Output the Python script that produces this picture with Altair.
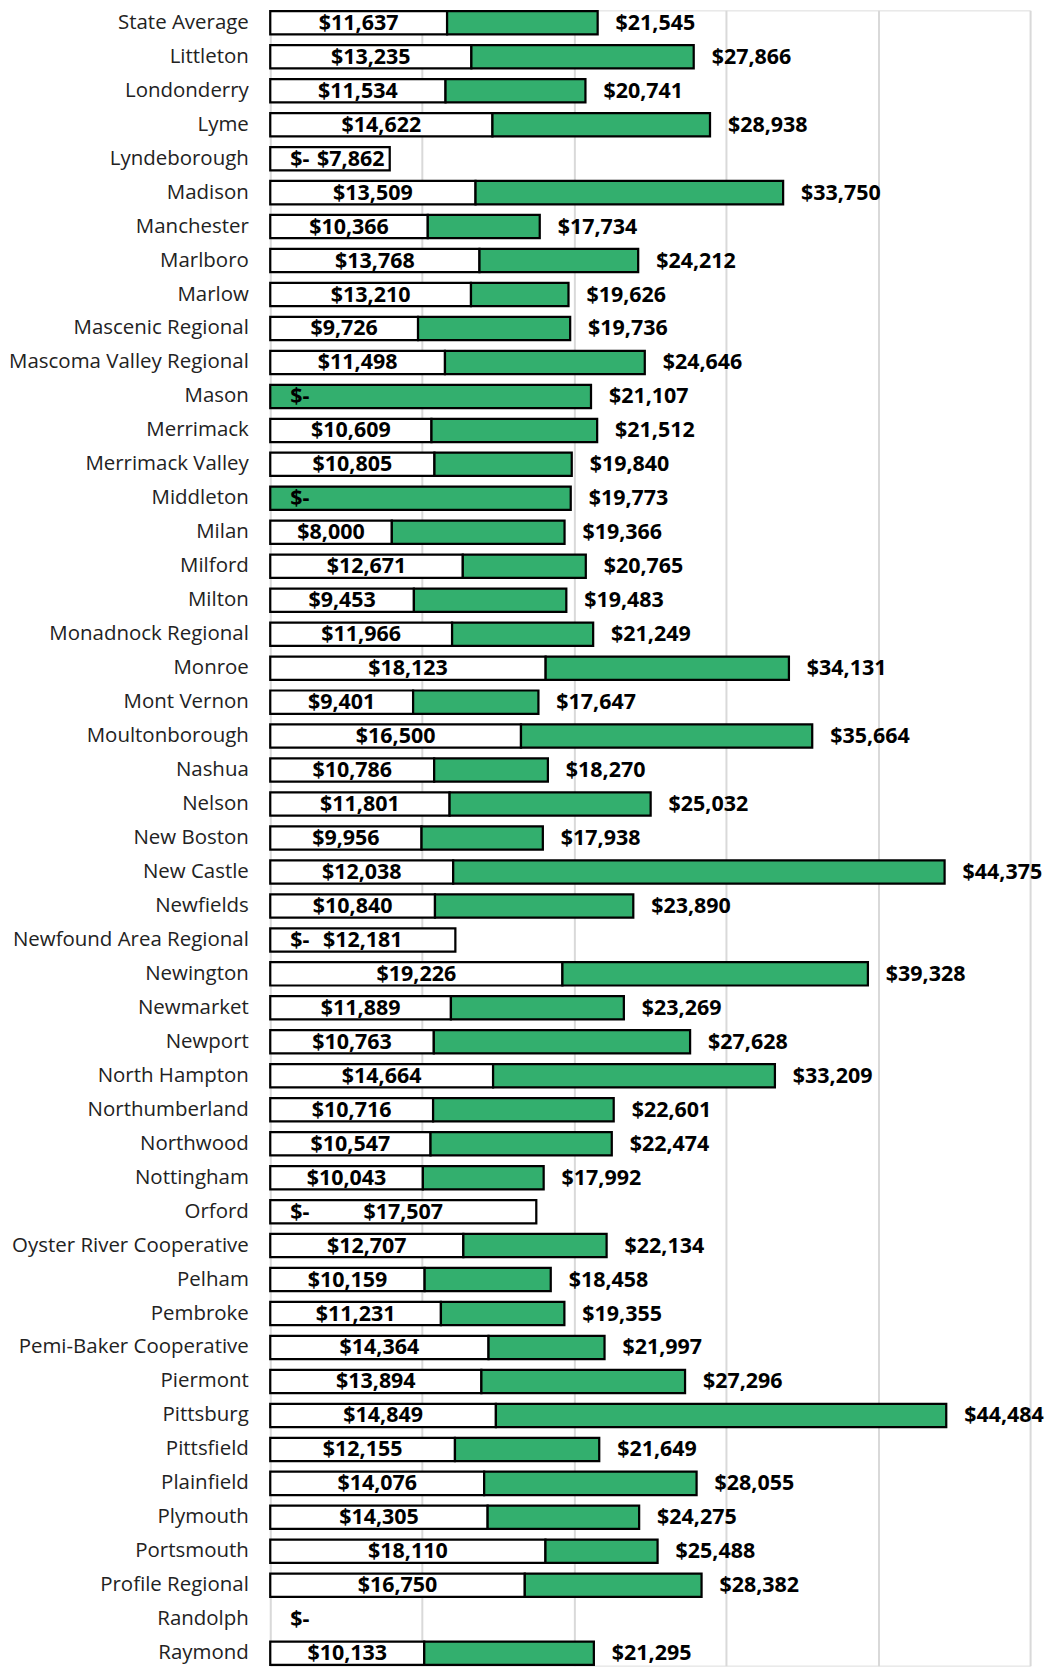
import altair as alt
import pandas as pd
import numpy as np

names = [
    "State Average", "Littleton", "Londonderry", "Lyme", "Lyndeborough", "Madison",
    "Manchester", "Marlboro", "Marlow", "Mascenic Regional", "Mascoma Valley Regional",
    "Mason", "Merrimack", "Merrimack Valley", "Middleton", "Milan", "Milford", "Milton",
    "Monadnock Regional", "Monroe", "Mont Vernon", "Moultonborough", "Nashua", "Nelson",
    "New Boston", "New Castle", "Newfields", "Newfound Area Regional", "Newington",
    "Newmarket", "Newport", "North Hampton", "Northumberland", "Northwood", "Nottingham",
    "Orford", "Oyster River Cooperative", "Pelham", "Pembroke", "Pemi-Baker Cooperative",
    "Piermont", "Pittsburg", "Pittsfield", "Plainfield", "Plymouth", "Portsmouth",
    "Profile Regional", "Randolph", "Raymond",
]

# value shown inside the white segment
first_amount = [
    11637, 13235, 11534, 14622, 0, 13509,
    10366, 13768, 13210, 9726, 11498,
    0, 10609, 10805, 0, 8000, 12671, 9453,
    11966, 18123, 9401, 16500, 10786, 11801,
    9956, 12038, 10840, 0, 19226,
    11889, 10763, 14664, 10716, 10547, 10043,
    0, 12707, 10159, 11231, 14364,
    13894, 14849, 12155, 14076, 14305, 18110,
    16750, 0, 10133,
]

# length of the white segment
white_amount = [
    11637, 13235, 11534, 14622, 7862, 13509,
    10366, 13768, 13210, 9726, 11498,
    0, 10609, 10805, 0, 8000, 12671, 9453,
    11966, 18123, 9401, 16500, 10786, 11801,
    9956, 12038, 10840, 12181, 19226,
    11889, 10763, 14664, 10716, 10547, 10043,
    17507, 12707, 10159, 11231, 14364,
    13894, 14849, 12155, 14076, 14305, 18110,
    16750, 0, 10133,
]

# total (end of the bar)
total_amount = [
    21545, 27866, 20741, 28938, 7862, 33750,
    17734, 24212, 19626, 19736, 24646,
    21107, 21512, 19840, 19773, 19366, 20765, 19483,
    21249, 34131, 17647, 35664, 18270, 25032,
    17938, 44375, 23890, 12181, 39328,
    23269, 27628, 33209, 22601, 22474, 17992,
    17507, 22134, 18458, 19355, 21997,
    27296, 44484, 21649, 28055, 24275, 25488,
    28382, 0, 21295,
]

grid_values = [0, 10000, 20000, 30000, 40000, 50000]


def money(v):
    return "$-" if v == 0 else f"${v:,.0f}"


df = pd.DataFrame({
    "name": names,
    "first": first_amount,
    "white": white_amount,
    "total": total_amount,
})
df["zero"] = 0
df["first_label"] = df["first"].map(money)
df["total_label"] = df["total"].map(money)
df["first_mid"] = df["first"] / 2
df["inside_x"] = np.maximum(df["total"] / 2, 5300)

FONT = "Open Sans, Lato, sans-serif"
GREEN = "#33AF6E"

y_enc = alt.Y(
    "name:N",
    sort=names,
    scale=alt.Scale(paddingInner=0.315, paddingOuter=0.023),
    axis=alt.Axis(
        title=None, ticks=False, domain=False, labelPadding=22,
        labelFontSize=20.5, labelFont=FONT, labelColor="#222222", labelLimit=400,
    ),
)
x_scale = alt.Scale(domain=[0, 50000], nice=False, zero=True)
x_axis = alt.Axis(
    values=grid_values, labels=False, ticks=False, domain=False, grid=True,
    gridColor="#d9d9d9", gridWidth=2, title=None,
)

base = alt.Chart(df)

white_bars = base.transform_filter("datum.white > 0").mark_bar(
    color="white", stroke="black", strokeWidth=2.25
).encode(
    x=alt.X("zero:Q", scale=x_scale, axis=x_axis),
    x2="white:Q",
    y=y_enc,
)

green_bars = base.transform_filter("datum.total > datum.white").mark_bar(
    color=GREEN, stroke="black", strokeWidth=2.25
).encode(
    x=alt.X("white:Q", scale=x_scale, axis=x_axis),
    x2="total:Q",
    y=y_enc,
)

text_props = dict(font=FONT, fontSize=21.5, fontWeight="bold", color="black", baseline="middle", dy=1)

first_text = base.transform_filter("datum.first > 0").mark_text(align="center", **text_props).encode(
    x=alt.X("first_mid:Q", scale=x_scale),
    y=alt.Y("name:N", sort=names),
    text="first_label:N",
)

dash_text = base.transform_filter("datum.first == 0").mark_text(align="left", dx=20, **text_props).encode(
    x=alt.X("zero:Q", scale=x_scale),
    y=alt.Y("name:N", sort=names),
    text="first_label:N",
)

total_out = base.transform_filter("datum.total > datum.white").mark_text(align="left", dx=18, **text_props).encode(
    x=alt.X("total:Q", scale=x_scale),
    y=alt.Y("name:N", sort=names),
    text="total_label:N",
)

total_in = base.transform_filter("datum.total == datum.white && datum.total > 0").mark_text(
    align="center", **text_props
).encode(
    x=alt.X("inside_x:Q", scale=x_scale),
    y=alt.Y("name:N", sort=names),
    text="total_label:N",
)

chart = alt.layer(white_bars, green_bars, first_text, dash_text, total_out, total_in).properties(
    width=762,
    height=1660,
    autosize=alt.AutoSizeParams(type="none"),
    padding={"left": 263, "top": 0, "right": 25, "bottom": 0},
).configure_view(stroke=None).configure(background="white")

chart.save("out.html", embed_options={"renderer": "svg", "actions": False})
